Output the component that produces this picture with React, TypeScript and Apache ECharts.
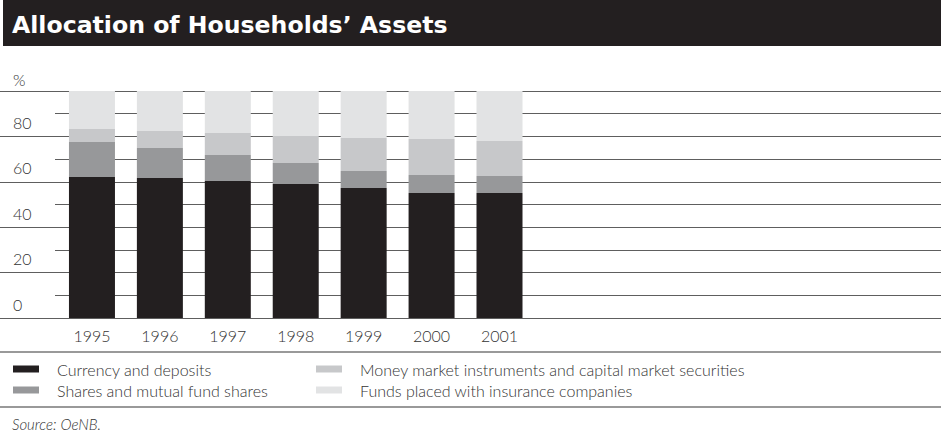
import React, { useEffect, useRef } from "react";
import * as echarts from "echarts";

const years = ["1995", "1996", "1997", "1998", "1999", "2000", "2001"];
const emptySlots = ["", "", "", "", "", ""];
const currency = [62.1, 61.7, 60.4, 59.0, 57.3, 55.1, 55.1];
const shares = [15.4, 13.2, 11.4, 9.3, 7.5, 7.9, 7.5];
const money = [5.8, 7.5, 9.7, 11.9, 14.5, 15.9, 15.4];
const insurance = [16.7, 17.6, 18.5, 19.8, 20.7, 21.1, 22.0];
const seriesNames = [
  "Currency and deposits",
  "Shares and mutual fund shares",
  "Money market instruments and capital market securities",
  "Funds placed with insurance companies",
];
const colors = ["#231f20", "#97989a", "#c7c8ca", "#e2e3e4"];

const FONT = "Lato";
const TEXT = "#333333";
const LINE = "#5e5e5e";

export default function App() {
  const ref = useRef<HTMLDivElement>(null);
  useEffect(() => {
    if (!ref.current) return;
    const chart = echarts.init(ref.current, null, { renderer: "svg" });
    const values = [currency, shares, money, insurance];
    const textStyle = { fontFamily: FONT, fontWeight: 300, fontSize: 16, color: TEXT };
    chart.setOption({
      animation: false,
      title: [
        {
          text: "Allocation of Households’ Assets",
          left: 12,
          top: 13,
          padding: 0,
          z: 10,
          textStyle: { color: "#ffffff", fontFamily: "DejaVu Sans", fontWeight: "bold", fontSize: 23.6 },
        },
        {
          text: "Source: OeNB.",
          left: 12,
          top: 416,
          padding: 0,
          textStyle: { ...textStyle, fontSize: 15, fontStyle: "italic" },
        },
      ],
      graphic: [
        { type: "rect", z: 0, shape: { x: 3, y: 0, width: 938, height: 46 }, style: { fill: "#231f20" } },
        { type: "line", shape: { x1: 0, y1: 352, x2: 941, y2: 352 }, style: { stroke: "#777", lineWidth: 1.5 } },
        { type: "line", shape: { x1: 0, y1: 407, x2: 941, y2: 407 }, style: { stroke: "#777", lineWidth: 1.5 } },
        {
          type: "text",
          x: 13,
          y: 79,
          style: { text: "%", fontFamily: FONT, fontWeight: 300, fontSize: 16, fill: TEXT, verticalAlign: "middle" },
        },
      ],
      legend: [
        {
          left: 13,
          top: 361,
          padding: 0,
          orient: "vertical",
          icon: "rect",
          itemWidth: 26,
          itemHeight: 7,
          itemGap: 5,
          data: [seriesNames[0], seriesNames[1]],
          textStyle: { ...textStyle, lineHeight: 16, padding: [0, 0, 0, 13] },
        },
        {
          left: 316,
          top: 361,
          padding: 0,
          orient: "vertical",
          icon: "rect",
          itemWidth: 26,
          itemHeight: 7,
          itemGap: 5,
          data: [seriesNames[2], seriesNames[3]],
          textStyle: { ...textStyle, lineHeight: 16, padding: [0, 0, 0, 13] },
        },
      ],
      grid: { left: 58, right: -4, top: 91, bottom: 119, containLabel: false },
      xAxis: {
        type: "category",
        data: [...years, ...emptySlots],
        axisLine: { show: false },
        axisTick: { show: false },
        axisLabel: { ...textStyle, interval: 0, margin: 9 },
      },
      yAxis: [
        {
          type: "value",
          min: 0,
          max: 100,
          interval: 10,
          axisLine: { show: false },
          axisLabel: { show: false },
          axisTick: { show: true, length: 3, lineStyle: { color: LINE, width: 1 } },
          splitLine: { show: true, lineStyle: { color: LINE, width: 1 } },
        },
        {
          type: "value",
          min: 0,
          max: 100,
          interval: 20,
          position: "left",
          axisLine: { show: false },
          splitLine: { show: false },
          axisTick: { show: true, length: 58, lineStyle: { color: LINE, width: 1 } },
          axisLabel: {
            ...textStyle,
            align: "left",
            verticalAlign: "bottom",
            margin: 45,
            padding: [0, 0, 6, 0],
            formatter: (v: number) => (v === 100 ? "" : String(v)),
          },
        },
      ],
      series: seriesNames.map((name, i) => ({
        name,
        type: "bar",
        stack: "total",
        barWidth: 46,
        itemStyle: { color: colors[i] },
        data: values[i],
      })),
    });
    return () => chart.dispose();
  }, []);
  return (
    <div
      ref={ref}
      style={{ position: "fixed", left: 0, top: 0, width: 941, height: 437, background: "#fff" }}
    />
  );
}
